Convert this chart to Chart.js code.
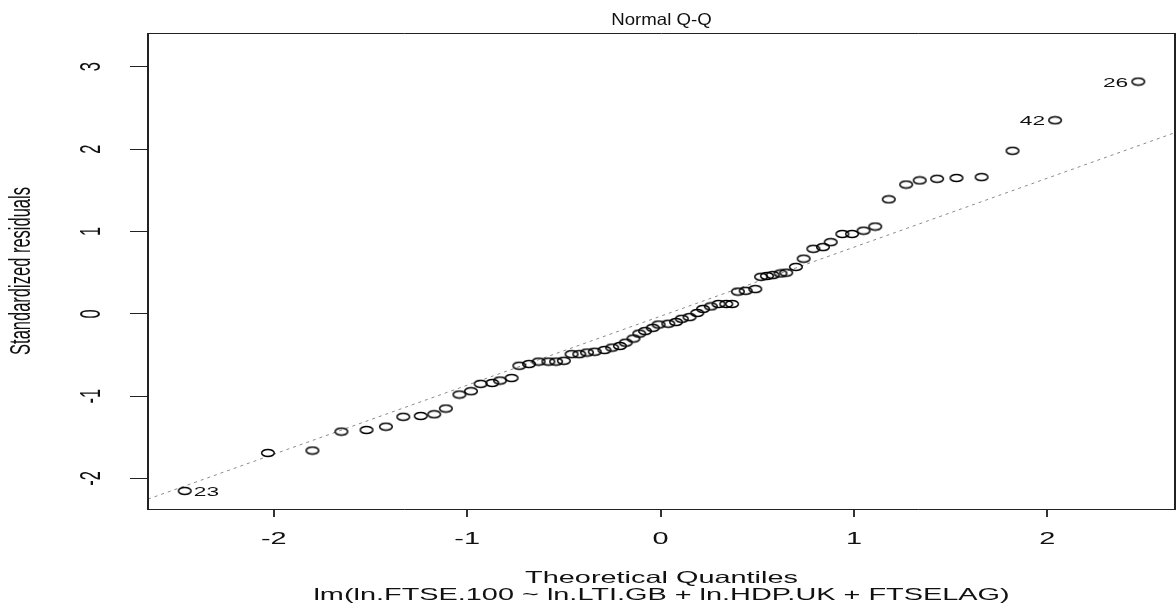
<!DOCTYPE html>
<html>
<head>
    <title>Normal Q-Q</title>
    <script src="https://cdn.jsdelivr.net/npm/chart.js"></script>
    <style>
        html, body { margin: 0; padding: 0; background: #fff; overflow: hidden; }
        #box { width: 1176px; height: 605px; position: relative; }
    </style>
</head>
<body>
    <div id="box"><canvas id="grafico"></canvas></div>

    <script>
        // quantis teóricos e resíduos padronizados
        const quantisTeoricos = [
            -2.46, -2.03, -1.80, -1.65, -1.52, -1.42, -1.33, -1.24, -1.17, -1.11,
            -1.04, -0.98, -0.93, -0.87, -0.83, -0.77, -0.73, -0.68, -0.63, -0.58,
            -0.54, -0.50, -0.46, -0.42, -0.38, -0.34, -0.29, -0.25, -0.21, -0.18,
            -0.14, -0.11, -0.08, -0.04, -0.01, 0.04, 0.08, 0.11, 0.15, 0.19,
            0.22, 0.26, 0.30, 0.34, 0.37, 0.40, 0.44, 0.49, 0.52, 0.55,
            0.58, 0.62, 0.65, 0.70, 0.74, 0.79, 0.84, 0.88, 0.94, 0.99,
            1.05, 1.11, 1.18, 1.27, 1.34, 1.43, 1.53, 1.66, 1.82, 2.04, 2.47
        ];
        const residuos = [
            -2.15, -1.69, -1.66, -1.43, -1.41, -1.37, -1.25, -1.24, -1.22, -1.15,
            -0.98, -0.94, -0.85, -0.84, -0.81, -0.78, -0.63, -0.61, -0.58, -0.58,
            -0.58, -0.57, -0.49, -0.49, -0.47, -0.46, -0.44, -0.41, -0.39, -0.35,
            -0.30, -0.24, -0.21, -0.17, -0.13, -0.12, -0.10, -0.06, -0.04, 0.01,
            0.06, 0.09, 0.12, 0.12, 0.12, 0.27, 0.28, 0.30, 0.45, 0.46,
            0.47, 0.49, 0.50, 0.57, 0.67, 0.79, 0.81, 0.87, 0.97, 0.97,
            1.01, 1.06, 1.39, 1.57, 1.62, 1.64, 1.65, 1.66, 1.98, 2.35, 2.82
        ];
        const rotulosPontos = ['23', '42', '26'];
        const indicesRotulos = [0, 69, 70];
        const rotuloLado = ['right', 'left', 'left'];

        // linha qqline
        const linhaX = [-2.65, 2.66];
        const linhaY = [-2.25, 2.20];

        const ticksX = [-2, -1, 0, 1, 2];
        const ticksY = [-2, -1, 0, 1, 2, 3];

        const titulo = 'Normal Q-Q';
        const tituloX = 'Theoretical Quantiles';
        const subtitulo = 'lm(ln.FTSE.100 ~ ln.LTI.GB + ln.HDP.UK + FTSELAG)';
        const tituloY = 'Standardized residuals';

        const ESTICA = 1.75; // a figura original foi esticada na horizontal
        const FONTE = '"Liberation Sans", Arial, sans-serif';

        // círculo achatado (elipse) para os pontos
        const anel = document.createElement('canvas');
        anel.width = 16;
        anel.height = 10;
        const ac = anel.getContext('2d');
        ac.strokeStyle = '#000';
        ac.lineWidth = 1.5;
        ac.beginPath();
        ac.ellipse(8, 5, 6.3, 3.5, 0, 0, Math.PI * 2);
        ac.stroke();

        function texto(ctx, s, x, y, tam, align, girar, estica) {
            ctx.save();
            ctx.translate(x, y);
            ctx.scale(estica || ESTICA, 1);
            if (girar) ctx.rotate(-Math.PI / 2);
            ctx.font = tam + 'px ' + FONTE;
            ctx.fillStyle = '#111';
            ctx.textAlign = align;
            ctx.textBaseline = 'alphabetic';
            ctx.fillText(s, 0, 0);
            ctx.restore();
        }

        const textos = {
            id: 'textos',
            afterDraw(chart) {
                const ctx = chart.ctx;
                const a = chart.chartArea;
                const sx = chart.scales.x;
                const sy = chart.scales.y;

                // moldura
                ctx.save();
                ctx.strokeStyle = '#222';
                ctx.lineWidth = 1;
                ctx.beginPath();
                ctx.moveTo(a.left, a.top + 0.5);
                ctx.lineTo(a.right, a.top + 0.5);
                ctx.moveTo(a.left, a.bottom + 0.5);
                ctx.lineTo(a.right, a.bottom + 0.5);
                ctx.stroke();
                ctx.lineWidth = 2;
                ctx.beginPath();
                ctx.moveTo(a.left, a.top);
                ctx.lineTo(a.left, a.bottom + 1);
                ctx.moveTo(a.right, a.top);
                ctx.lineTo(a.right, a.bottom + 1);
                ctx.stroke();
                ctx.restore();

                ticksX.forEach(v => texto(ctx, String(v), sx.getPixelForValue(v), 544, 16.5, 'center', false));
                ticksY.forEach(v => texto(ctx, String(v), 100, sy.getPixelForValue(v), 16.5, 'center', true));

                const meio = (a.left + a.right) / 2;
                texto(ctx, titulo, meio, 25, 16.5, 'center', false, 1.13);
                texto(ctx, tituloX, meio, 583, 16.5, 'center', false);
                texto(ctx, subtitulo, meio, 600, 16.5, 'center', false);
                texto(ctx, tituloY, 30, (a.top + a.bottom) / 2, 16.5, 'center', true);

                const meta = chart.getDatasetMeta(0);
                indicesRotulos.forEach((idx, i) => {
                    const p = meta.data[idx];
                    const dx = rotuloLado[i] === 'right' ? 9 : -10;
                    texto(ctx, rotulosPontos[i], p.x + dx, p.y + 5, 13, rotuloLado[i] === 'right' ? 'left' : 'right', false);
                });
            }
        };

        const pontos = quantisTeoricos.map((q, i) => ({ x: q, y: residuos[i] }));
        const linha = linhaX.map((x, i) => ({ x: x, y: linhaY[i] }));

        new Chart(document.getElementById('grafico'), {
            type: 'scatter',
            data: {
                datasets: [{
                    data: pontos,
                    pointStyle: anel,
                    pointRadius: 6,
                    order: 1
                }, {
                    type: 'line',
                    data: linha,
                    borderColor: '#8a8a8a',
                    borderWidth: 1,
                    borderDash: [3, 4],
                    pointRadius: 0,
                    fill: false,
                    order: 2
                }]
            },
            options: {
                animation: false,
                responsive: true,
                maintainAspectRatio: false,
                layout: { autoPadding: false, padding: { top: 33, right: 1, left: 0, bottom: 0 } },
                plugins: { legend: { display: false }, tooltip: { enabled: false } },
                scales: {
                    x: {
                        type: 'linear',
                        min: -2.65,
                        max: 2.66,
                        afterBuildTicks: s => { s.ticks = ticksX.map(v => ({ value: v })); },
                        afterFit: s => { s.height = 96; },
                        ticks: { display: false },
                        border: { display: false },
                        grid: { drawOnChartArea: false, drawTicks: true, tickLength: 8, color: '#333', lineWidth: 2 }
                    },
                    y: {
                        type: 'linear',
                        min: -2.37,
                        max: 3.41,
                        afterBuildTicks: s => { s.ticks = ticksY.map(v => ({ value: v })); },
                        afterFit: s => { s.width = 148; },
                        ticks: { display: false },
                        border: { display: false },
                        grid: { drawOnChartArea: false, drawTicks: true, tickLength: 18, color: '#222', lineWidth: 1 }
                    }
                }
            },
            plugins: [textos]
        });
    </script>
</body>
</html>
